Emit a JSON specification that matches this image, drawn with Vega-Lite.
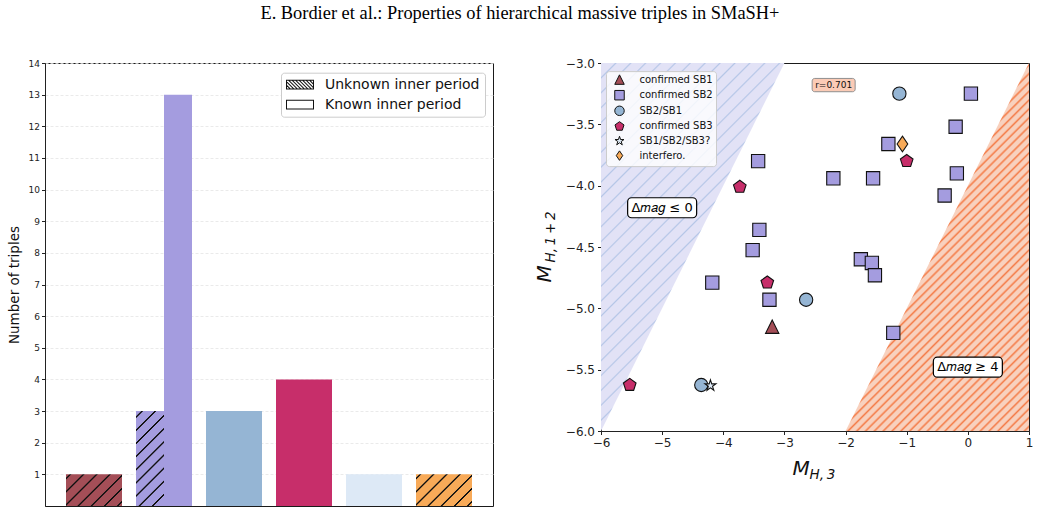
{
  "$schema": "https://vega.github.io/schema/vega-lite/v6.json",
  "background": "white",
  "padding": {"left": 6, "top": 4, "right": 2, "bottom": 0},
  "title": {
    "text": "E. Bordier et al.: Properties of hierarchical massive triples in SMaSH+",
    "font": "Liberation Serif",
    "fontSize": 18.4,
    "fontWeight": "normal",
    "color": "#000000",
    "anchor": "middle",
    "offset": 34
  },
  "config": {
    "view": {"stroke": "#1a1a1a", "strokeWidth": 1},
    "axis": {
      "labelFont": "DejaVu Sans",
      "titleFont": "DejaVu Sans",
      "labelColor": "#222222",
      "titleColor": "#111111",
      "tickColor": "#222222",
      "domainColor": "#222222",
      "tickSize": 3.5,
      "tickWidth": 1,
      "domainWidth": 1,
      "grid": false,
      "titleFontWeight": "normal"
    },
    "legend": {"labelFont": "DejaVu Sans", "titleFont": "DejaVu Sans"}
  },
  "bounds": "flush",
  "spacing": 108,
  "resolve": {"scale": {"color": "independent", "fill": "independent", "shape": "independent", "size": "independent"}},
  "hconcat": [
    {
      "width": 448,
      "height": 443,
      "resolve": {"scale": {"x": "independent"}},
      "data": {
        "values": [
          {"category": "confirmed SB1", "period": "Unknown inner period", "count": 1},
          {"category": "confirmed SB2", "period": "Unknown inner period", "count": 3},
          {"category": "confirmed SB2", "period": "Known inner period", "count": 13},
          {"category": "SB2/SB1", "period": "Known inner period", "count": 3},
          {"category": "confirmed SB3", "period": "Known inner period", "count": 4},
          {"category": "SB1/SB2/SB3?", "period": "Known inner period", "count": 1},
          {"category": "interfero.", "period": "Unknown inner period", "count": 1}
        ]
      },
      "encoding": {
        "x": {
          "field": "category",
          "type": "nominal",
          "scale": {
            "domain": ["confirmed SB1", "confirmed SB2", "SB2/SB1", "confirmed SB3", "SB1/SB2/SB3?", "interfero."],
            "paddingInner": 0.2,
            "paddingOuter": 0.3
          },
          "axis": null
        },
        "y": {
          "field": "count",
          "type": "quantitative",
          "scale": {"domain": [0, 14], "nice": false, "zero": false},
          "axis": {
            "values": [1, 2, 3, 4, 5, 6, 7, 8, 9, 10, 11, 12, 13, 14],
            "title": "Number of triples",
            "titleFontSize": 13.5,
            "labelFontSize": 9,
            "labelPadding": 2,
            "titlePadding": 7,
            "grid": true,
            "gridColor": "#e4e4e4",
            "gridDash": [3, 2],
            "gridWidth": 0.8
          }
        }
      },
      "layer": [
        {
          "data": {"values": [{"edge": "top"}]},
          "mark": {"type": "rule", "color": "#1a1a1a", "strokeWidth": 1},
          "encoding": {
            "x": {"datum": 0, "type": "quantitative", "scale": {"domain": [0, 1]}, "axis": null},
            "x2": {"datum": 1},
            "y": {"datum": 14, "type": "quantitative"}
          }
        },
        {
          "data": {"values": [{"edge": "right"}]},
          "mark": {"type": "rule", "color": "#555555", "strokeWidth": 1},
          "encoding": {
            "x": {"datum": 0.999, "type": "quantitative", "scale": {"domain": [0, 1]}, "axis": null},
            "y": {"datum": 14, "type": "quantitative"},
            "y2": {"datum": 0}
          }
        },
        {
          "transform": [{"filter": "datum.category == 'confirmed SB3'"}],
          "mark": {"type": "point", "filled": true, "strokeWidth": 0, "opacity": 1, "yOffset": 16},
          "encoding": {
            "fill": {
              "field": "period",
              "type": "nominal",
              "scale": {"domain": ["Unknown inner period", "Known inner period"], "range": ["#111111", "#111111"]},
              "legend": {
                "title": null, "orient": "none", "legendX": 236, "legendY": 9.7,
                "padding": 5, "fillColor": "white", "strokeColor": "#cccccc", "cornerRadius": 3,
                "symbolSize": 196, "symbolStrokeWidth": 0, "symbolOpacity": 1,
                "labelFontSize": 14, "labelColor": "#111111", "labelOffset": 25, "rowPadding": 6
              }
            },
            "shape": {
              "field": "period",
              "type": "nominal",
              "scale": {
                "domain": ["Unknown inner period", "Known inner period"],
                "range": [
                  "M-1,-0.7L3,-0.7L3,0.7L-1,0.7ZM-0.857,-0.557L-0.857,0.557L2.857,0.557L2.857,-0.557ZM-1,-0.1L-0.2,0.7L-0.4,0.7L-1,0.1ZM-1,-0.6L0.3,0.7L0.1,0.7L-1,-0.4ZM-0.8,-0.7L-0.6,-0.7L0.8,0.7L0.6,0.7ZM-0.3,-0.7L-0.1,-0.7L1.3,0.7L1.1,0.7ZM0.2,-0.7L0.4,-0.7L1.8,0.7L1.6,0.7ZM0.7,-0.7L0.9,-0.7L2.3,0.7L2.1,0.7ZM1.2,-0.7L1.4,-0.7L2.8,0.7L2.6,0.7ZM1.7,-0.7L1.9,-0.7L3,0.4L3,0.6ZM2.2,-0.7L2.4,-0.7L3,-0.1L3,0.1ZM2.7,-0.7L2.9,-0.7L3,-0.6L3,-0.4Z",
                  "M-1,-0.7L3,-0.7L3,0.7L-1,0.7ZM-0.857,-0.557L-0.857,0.557L2.857,0.557L2.857,-0.557Z"
                ]
              },
              "legend": {
                "title": null, "orient": "none", "legendX": 236, "legendY": 9.7,
                "padding": 5, "fillColor": "white", "strokeColor": "#cccccc", "cornerRadius": 3,
                "symbolSize": 196, "symbolStrokeWidth": 0, "symbolOpacity": 1,
                "labelFontSize": 14, "labelColor": "#111111", "labelOffset": 25, "rowPadding": 6
              }
            }
          }
        },
        {
          "transform": [{"filter": "datum.period == 'Known inner period' && datum.category != 'confirmed SB2'"}],
          "mark": {"type": "bar"},
          "encoding": {
            "color": {
              "field": "category",
              "type": "nominal",
              "scale": {
                "domain": ["confirmed SB1", "confirmed SB2", "SB2/SB1", "confirmed SB3", "SB1/SB2/SB3?", "interfero."],
                "range": ["#a44e57", "#a49cdf", "#95b5d4", "#c72e6a", "#dde9f6", "#f8aa58"]
              },
              "legend": null
            }
          }
        },
        {
          "transform": [{"filter": "datum.category == 'confirmed SB2' && datum.period == 'Known inner period'"}],
          "mark": {"type": "bar", "color": "#a49cdf"},
          "encoding": {
            "xOffset": {"field": "period", "type": "nominal", "scale": {"domain": ["Unknown inner period", "Known inner period"]}}
          }
        },
        {
          "transform": [{"filter": "datum.category == 'confirmed SB2' && datum.period == 'Unknown inner period'"}],
          "mark": {
            "type": "bar",
            "fill": {
              "gradient": "linear", "x1": 0, "y1": 0, "x2": 0.3505, "y2": 1.1911,
              "stops": [
                {"offset": 0, "color": "#a49cdf"},
                {"offset": 0.0385, "color": "#a49cdf"}, {"offset": 0.0455, "color": "#111111"}, {"offset": 0.0545, "color": "#111111"}, {"offset": 0.0615, "color": "#a49cdf"},
                {"offset": 0.1455, "color": "#a49cdf"}, {"offset": 0.1525, "color": "#111111"}, {"offset": 0.1615, "color": "#111111"}, {"offset": 0.1685, "color": "#a49cdf"},
                {"offset": 0.2525, "color": "#a49cdf"}, {"offset": 0.2595, "color": "#111111"}, {"offset": 0.2685, "color": "#111111"}, {"offset": 0.2755, "color": "#a49cdf"},
                {"offset": 0.3595, "color": "#a49cdf"}, {"offset": 0.3665, "color": "#111111"}, {"offset": 0.3755, "color": "#111111"}, {"offset": 0.3825, "color": "#a49cdf"},
                {"offset": 0.4665, "color": "#a49cdf"}, {"offset": 0.4735, "color": "#111111"}, {"offset": 0.4825, "color": "#111111"}, {"offset": 0.4895, "color": "#a49cdf"},
                {"offset": 0.5735, "color": "#a49cdf"}, {"offset": 0.5805, "color": "#111111"}, {"offset": 0.5895, "color": "#111111"}, {"offset": 0.5965, "color": "#a49cdf"},
                {"offset": 0.6805, "color": "#a49cdf"}, {"offset": 0.6875, "color": "#111111"}, {"offset": 0.6965, "color": "#111111"}, {"offset": 0.7035, "color": "#a49cdf"},
                {"offset": 0.7875, "color": "#a49cdf"}, {"offset": 0.7945, "color": "#111111"}, {"offset": 0.8035, "color": "#111111"}, {"offset": 0.8105, "color": "#a49cdf"},
                {"offset": 0.8945, "color": "#a49cdf"}, {"offset": 0.9015, "color": "#111111"}, {"offset": 0.9105, "color": "#111111"}, {"offset": 0.9175, "color": "#a49cdf"},
                {"offset": 1, "color": "#a49cdf"}
              ]
            }
          },
          "encoding": {
            "xOffset": {"field": "period", "type": "nominal", "scale": {"domain": ["Unknown inner period", "Known inner period"]}}
          }
        },
        {
          "transform": [{"filter": "datum.category == 'confirmed SB1'"}],
          "mark": {
            "type": "bar",
            "fill": {
              "gradient": "linear", "x1": 0, "y1": 0, "x2": 1.186, "y2": 0.672,
              "stops": [
                {"offset": 0, "color": "#a44e57"},
                {"offset": 0.034, "color": "#a44e57"}, {"offset": 0.044, "color": "#111111"}, {"offset": 0.056, "color": "#111111"}, {"offset": 0.066, "color": "#a44e57"},
                {"offset": 0.184, "color": "#a44e57"}, {"offset": 0.194, "color": "#111111"}, {"offset": 0.206, "color": "#111111"}, {"offset": 0.216, "color": "#a44e57"},
                {"offset": 0.334, "color": "#a44e57"}, {"offset": 0.344, "color": "#111111"}, {"offset": 0.356, "color": "#111111"}, {"offset": 0.366, "color": "#a44e57"},
                {"offset": 0.484, "color": "#a44e57"}, {"offset": 0.494, "color": "#111111"}, {"offset": 0.506, "color": "#111111"}, {"offset": 0.516, "color": "#a44e57"},
                {"offset": 0.634, "color": "#a44e57"}, {"offset": 0.644, "color": "#111111"}, {"offset": 0.656, "color": "#111111"}, {"offset": 0.666, "color": "#a44e57"},
                {"offset": 0.784, "color": "#a44e57"}, {"offset": 0.794, "color": "#111111"}, {"offset": 0.806, "color": "#111111"}, {"offset": 0.816, "color": "#a44e57"},
                {"offset": 0.934, "color": "#a44e57"}, {"offset": 0.944, "color": "#111111"}, {"offset": 0.956, "color": "#111111"}, {"offset": 0.966, "color": "#a44e57"},
                {"offset": 1, "color": "#a44e57"}
              ]
            }
          }
        },
        {
          "transform": [{"filter": "datum.category == 'interfero.'"}],
          "mark": {
            "type": "bar",
            "fill": {
              "gradient": "linear", "x1": 0, "y1": 0, "x2": 1.186, "y2": 0.672,
              "stops": [
                {"offset": 0, "color": "#f8aa58"},
                {"offset": 0.034, "color": "#f8aa58"}, {"offset": 0.044, "color": "#111111"}, {"offset": 0.056, "color": "#111111"}, {"offset": 0.066, "color": "#f8aa58"},
                {"offset": 0.184, "color": "#f8aa58"}, {"offset": 0.194, "color": "#111111"}, {"offset": 0.206, "color": "#111111"}, {"offset": 0.216, "color": "#f8aa58"},
                {"offset": 0.334, "color": "#f8aa58"}, {"offset": 0.344, "color": "#111111"}, {"offset": 0.356, "color": "#111111"}, {"offset": 0.366, "color": "#f8aa58"},
                {"offset": 0.484, "color": "#f8aa58"}, {"offset": 0.494, "color": "#111111"}, {"offset": 0.506, "color": "#111111"}, {"offset": 0.516, "color": "#f8aa58"},
                {"offset": 0.634, "color": "#f8aa58"}, {"offset": 0.644, "color": "#111111"}, {"offset": 0.656, "color": "#111111"}, {"offset": 0.666, "color": "#f8aa58"},
                {"offset": 0.784, "color": "#f8aa58"}, {"offset": 0.794, "color": "#111111"}, {"offset": 0.806, "color": "#111111"}, {"offset": 0.816, "color": "#f8aa58"},
                {"offset": 0.934, "color": "#f8aa58"}, {"offset": 0.944, "color": "#111111"}, {"offset": 0.956, "color": "#111111"}, {"offset": 0.966, "color": "#f8aa58"},
                {"offset": 1, "color": "#f8aa58"}
              ]
            }
          }
        }
      ]
    },
    {
      "width": 428,
      "height": 368,
      "resolve": {"axis": {"x": "independent", "y": "independent"}},
      "layer": [
        {
          "data": {"values": [{"mh3": -6, "lo": -6, "hi": -3}, {"mh3": -3, "lo": -3, "hi": -3}]},
          "mark": {
            "type": "area",
            "fill": {
              "gradient": "linear", "x1": 0, "y1": 0, "x2": 0.598, "y2": 1.2,
              "stops": [
                {"offset": 0, "color": "#e2e2f6"},
                {"offset": 0.024, "color": "#e2e2f6"}, {"offset": 0.027, "color": "#b5c6e7"}, {"offset": 0.030, "color": "#e2e2f6"},
                {"offset": 0.051, "color": "#e2e2f6"}, {"offset": 0.054, "color": "#b5c6e7"}, {"offset": 0.057, "color": "#e2e2f6"},
                {"offset": 0.078, "color": "#e2e2f6"}, {"offset": 0.081, "color": "#b5c6e7"}, {"offset": 0.084, "color": "#e2e2f6"},
                {"offset": 0.105, "color": "#e2e2f6"}, {"offset": 0.108, "color": "#b5c6e7"}, {"offset": 0.111, "color": "#e2e2f6"},
                {"offset": 0.132, "color": "#e2e2f6"}, {"offset": 0.135, "color": "#b5c6e7"}, {"offset": 0.138, "color": "#e2e2f6"},
                {"offset": 0.159, "color": "#e2e2f6"}, {"offset": 0.162, "color": "#b5c6e7"}, {"offset": 0.165, "color": "#e2e2f6"},
                {"offset": 0.186, "color": "#e2e2f6"}, {"offset": 0.189, "color": "#b5c6e7"}, {"offset": 0.192, "color": "#e2e2f6"},
                {"offset": 0.213, "color": "#e2e2f6"}, {"offset": 0.216, "color": "#b5c6e7"}, {"offset": 0.219, "color": "#e2e2f6"},
                {"offset": 0.240, "color": "#e2e2f6"}, {"offset": 0.243, "color": "#b5c6e7"}, {"offset": 0.246, "color": "#e2e2f6"},
                {"offset": 0.267, "color": "#e2e2f6"}, {"offset": 0.270, "color": "#b5c6e7"}, {"offset": 0.273, "color": "#e2e2f6"},
                {"offset": 0.294, "color": "#e2e2f6"}, {"offset": 0.297, "color": "#b5c6e7"}, {"offset": 0.300, "color": "#e2e2f6"},
                {"offset": 0.321, "color": "#e2e2f6"}, {"offset": 0.324, "color": "#b5c6e7"}, {"offset": 0.327, "color": "#e2e2f6"},
                {"offset": 0.348, "color": "#e2e2f6"}, {"offset": 0.351, "color": "#b5c6e7"}, {"offset": 0.354, "color": "#e2e2f6"},
                {"offset": 0.375, "color": "#e2e2f6"}, {"offset": 0.378, "color": "#b5c6e7"}, {"offset": 0.381, "color": "#e2e2f6"},
                {"offset": 0.402, "color": "#e2e2f6"}, {"offset": 0.405, "color": "#b5c6e7"}, {"offset": 0.408, "color": "#e2e2f6"},
                {"offset": 0.429, "color": "#e2e2f6"}, {"offset": 0.432, "color": "#b5c6e7"}, {"offset": 0.435, "color": "#e2e2f6"},
                {"offset": 0.456, "color": "#e2e2f6"}, {"offset": 0.459, "color": "#b5c6e7"}, {"offset": 0.462, "color": "#e2e2f6"},
                {"offset": 0.483, "color": "#e2e2f6"}, {"offset": 0.486, "color": "#b5c6e7"}, {"offset": 0.489, "color": "#e2e2f6"},
                {"offset": 0.510, "color": "#e2e2f6"}, {"offset": 0.513, "color": "#b5c6e7"}, {"offset": 0.516, "color": "#e2e2f6"},
                {"offset": 0.537, "color": "#e2e2f6"}, {"offset": 0.540, "color": "#b5c6e7"}, {"offset": 0.543, "color": "#e2e2f6"},
                {"offset": 0.564, "color": "#e2e2f6"}, {"offset": 0.567, "color": "#b5c6e7"}, {"offset": 0.570, "color": "#e2e2f6"},
                {"offset": 0.591, "color": "#e2e2f6"}, {"offset": 0.594, "color": "#b5c6e7"}, {"offset": 0.597, "color": "#e2e2f6"},
                {"offset": 0.618, "color": "#e2e2f6"}, {"offset": 0.621, "color": "#b5c6e7"}, {"offset": 0.624, "color": "#e2e2f6"},
                {"offset": 0.645, "color": "#e2e2f6"}, {"offset": 0.648, "color": "#b5c6e7"}, {"offset": 0.651, "color": "#e2e2f6"},
                {"offset": 1, "color": "#e2e2f6"}
              ]
            }
          },
          "encoding": {
            "x": {
              "field": "mh3", "type": "quantitative",
              "scale": {"domain": [-6, 1], "nice": false, "zero": false},
              "axis": {
                "orient": "bottom", "labels": false, "ticks": false, "domain": false,
                "title": "H,\u20093", "titleFontSize": 13.5, "titleFontStyle": "italic",
                "titleX": 208, "titleY": 47.5, "titleAlign": "left", "titleBaseline": "alphabetic"
              }
            },
            "y": {
              "field": "lo", "type": "quantitative",
              "scale": {"domain": [-6, -3], "nice": false, "zero": false},
              "axis": {
                "orient": "left", "labels": false, "ticks": false, "domain": false,
                "title": "H,\u20091\u2009+\u20092", "titleFontSize": 13.5, "titleFontStyle": "italic", "titleAngle": -90,
                "titleX": -47, "titleY": 199, "titleAlign": "left", "titleBaseline": "alphabetic"
              }
            },
            "y2": {"field": "hi"}
          }
        },
        {
          "data": {"values": [{"mh3": -2, "lo": -6, "hi": -6}, {"mh3": 1, "lo": -6, "hi": -3}]},
          "mark": {
            "type": "area",
            "fill": {
              "gradient": "linear", "x1": 0, "y1": 0, "x2": 0.598, "y2": 1.2,
              "stops": [
                {"offset": 0, "color": "#f8d1be"},
                {"offset": 0.316, "color": "#f8d1be"}, {"offset": 0.320, "color": "#f47c48"}, {"offset": 0.324, "color": "#f8d1be"},
                {"offset": 0.332, "color": "#f8d1be"}, {"offset": 0.336, "color": "#f47c48"}, {"offset": 0.340, "color": "#f8d1be"},
                {"offset": 0.348, "color": "#f8d1be"}, {"offset": 0.352, "color": "#f47c48"}, {"offset": 0.356, "color": "#f8d1be"},
                {"offset": 0.364, "color": "#f8d1be"}, {"offset": 0.368, "color": "#f47c48"}, {"offset": 0.372, "color": "#f8d1be"},
                {"offset": 0.380, "color": "#f8d1be"}, {"offset": 0.384, "color": "#f47c48"}, {"offset": 0.388, "color": "#f8d1be"},
                {"offset": 0.396, "color": "#f8d1be"}, {"offset": 0.400, "color": "#f47c48"}, {"offset": 0.404, "color": "#f8d1be"},
                {"offset": 0.412, "color": "#f8d1be"}, {"offset": 0.416, "color": "#f47c48"}, {"offset": 0.420, "color": "#f8d1be"},
                {"offset": 0.428, "color": "#f8d1be"}, {"offset": 0.432, "color": "#f47c48"}, {"offset": 0.436, "color": "#f8d1be"},
                {"offset": 0.444, "color": "#f8d1be"}, {"offset": 0.448, "color": "#f47c48"}, {"offset": 0.452, "color": "#f8d1be"},
                {"offset": 0.460, "color": "#f8d1be"}, {"offset": 0.464, "color": "#f47c48"}, {"offset": 0.468, "color": "#f8d1be"},
                {"offset": 0.476, "color": "#f8d1be"}, {"offset": 0.480, "color": "#f47c48"}, {"offset": 0.484, "color": "#f8d1be"},
                {"offset": 0.492, "color": "#f8d1be"}, {"offset": 0.496, "color": "#f47c48"}, {"offset": 0.500, "color": "#f8d1be"},
                {"offset": 0.508, "color": "#f8d1be"}, {"offset": 0.512, "color": "#f47c48"}, {"offset": 0.516, "color": "#f8d1be"},
                {"offset": 0.524, "color": "#f8d1be"}, {"offset": 0.528, "color": "#f47c48"}, {"offset": 0.532, "color": "#f8d1be"},
                {"offset": 0.540, "color": "#f8d1be"}, {"offset": 0.544, "color": "#f47c48"}, {"offset": 0.548, "color": "#f8d1be"},
                {"offset": 0.556, "color": "#f8d1be"}, {"offset": 0.560, "color": "#f47c48"}, {"offset": 0.564, "color": "#f8d1be"},
                {"offset": 0.572, "color": "#f8d1be"}, {"offset": 0.576, "color": "#f47c48"}, {"offset": 0.580, "color": "#f8d1be"},
                {"offset": 0.588, "color": "#f8d1be"}, {"offset": 0.592, "color": "#f47c48"}, {"offset": 0.596, "color": "#f8d1be"},
                {"offset": 0.604, "color": "#f8d1be"}, {"offset": 0.608, "color": "#f47c48"}, {"offset": 0.612, "color": "#f8d1be"},
                {"offset": 0.620, "color": "#f8d1be"}, {"offset": 0.624, "color": "#f47c48"}, {"offset": 0.628, "color": "#f8d1be"},
                {"offset": 0.636, "color": "#f8d1be"}, {"offset": 0.640, "color": "#f47c48"}, {"offset": 0.644, "color": "#f8d1be"},
                {"offset": 0.652, "color": "#f8d1be"}, {"offset": 0.656, "color": "#f47c48"}, {"offset": 0.660, "color": "#f8d1be"},
                {"offset": 0.668, "color": "#f8d1be"}, {"offset": 0.672, "color": "#f47c48"}, {"offset": 0.676, "color": "#f8d1be"},
                {"offset": 0.684, "color": "#f8d1be"}, {"offset": 0.688, "color": "#f47c48"}, {"offset": 0.692, "color": "#f8d1be"},
                {"offset": 0.700, "color": "#f8d1be"}, {"offset": 0.704, "color": "#f47c48"}, {"offset": 0.708, "color": "#f8d1be"},
                {"offset": 0.716, "color": "#f8d1be"}, {"offset": 0.720, "color": "#f47c48"}, {"offset": 0.724, "color": "#f8d1be"},
                {"offset": 0.732, "color": "#f8d1be"}, {"offset": 0.736, "color": "#f47c48"}, {"offset": 0.740, "color": "#f8d1be"},
                {"offset": 0.748, "color": "#f8d1be"}, {"offset": 0.752, "color": "#f47c48"}, {"offset": 0.756, "color": "#f8d1be"},
                {"offset": 0.764, "color": "#f8d1be"}, {"offset": 0.768, "color": "#f47c48"}, {"offset": 0.772, "color": "#f8d1be"},
                {"offset": 0.780, "color": "#f8d1be"}, {"offset": 0.784, "color": "#f47c48"}, {"offset": 0.788, "color": "#f8d1be"},
                {"offset": 0.796, "color": "#f8d1be"}, {"offset": 0.800, "color": "#f47c48"}, {"offset": 0.804, "color": "#f8d1be"},
                {"offset": 0.812, "color": "#f8d1be"}, {"offset": 0.816, "color": "#f47c48"}, {"offset": 0.820, "color": "#f8d1be"},
                {"offset": 0.828, "color": "#f8d1be"}, {"offset": 0.832, "color": "#f47c48"}, {"offset": 0.836, "color": "#f8d1be"},
                {"offset": 0.844, "color": "#f8d1be"}, {"offset": 0.848, "color": "#f47c48"}, {"offset": 0.852, "color": "#f8d1be"},
                {"offset": 0.860, "color": "#f8d1be"}, {"offset": 0.864, "color": "#f47c48"}, {"offset": 0.868, "color": "#f8d1be"},
                {"offset": 0.876, "color": "#f8d1be"}, {"offset": 0.880, "color": "#f47c48"}, {"offset": 0.884, "color": "#f8d1be"},
                {"offset": 0.892, "color": "#f8d1be"}, {"offset": 0.896, "color": "#f47c48"}, {"offset": 0.900, "color": "#f8d1be"},
                {"offset": 0.908, "color": "#f8d1be"}, {"offset": 0.912, "color": "#f47c48"}, {"offset": 0.916, "color": "#f8d1be"},
                {"offset": 0.924, "color": "#f8d1be"}, {"offset": 0.928, "color": "#f47c48"}, {"offset": 0.932, "color": "#f8d1be"},
                {"offset": 0.940, "color": "#f8d1be"}, {"offset": 0.944, "color": "#f47c48"}, {"offset": 0.948, "color": "#f8d1be"},
                {"offset": 0.956, "color": "#f8d1be"}, {"offset": 0.960, "color": "#f47c48"}, {"offset": 0.964, "color": "#f8d1be"},
                {"offset": 0.972, "color": "#f8d1be"}, {"offset": 0.976, "color": "#f47c48"}, {"offset": 0.980, "color": "#f8d1be"},
                {"offset": 0.988, "color": "#f8d1be"}, {"offset": 0.992, "color": "#f47c48"}, {"offset": 0.996, "color": "#f8d1be"},
                {"offset": 1, "color": "#f8d1be"}
              ]
            }
          },
          "encoding": {
            "x": {"field": "mh3", "type": "quantitative", "scale": {"domain": [-6, 1], "nice": false, "zero": false}, "axis": null},
            "y": {"field": "lo", "type": "quantitative", "scale": {"domain": [-6, -3], "nice": false, "zero": false}, "axis": null},
            "y2": {"field": "hi"}
          }
        },
        {
          "data": {
            "values": [
              {"type": "confirmed SB1", "mh3": -3.2, "mh12": -5.15},
              {"type": "confirmed SB2", "mh3": 0.05, "mh12": -3.25},
              {"type": "confirmed SB2", "mh3": -0.2, "mh12": -3.52},
              {"type": "confirmed SB2", "mh3": -1.3, "mh12": -3.66},
              {"type": "confirmed SB2", "mh3": -3.43, "mh12": -3.8},
              {"type": "confirmed SB2", "mh3": -2.2, "mh12": -3.94},
              {"type": "confirmed SB2", "mh3": -1.55, "mh12": -3.94},
              {"type": "confirmed SB2", "mh3": -0.18, "mh12": -3.9},
              {"type": "confirmed SB2", "mh3": -0.38, "mh12": -4.08},
              {"type": "confirmed SB2", "mh3": -3.41, "mh12": -4.36},
              {"type": "confirmed SB2", "mh3": -3.52, "mh12": -4.525},
              {"type": "confirmed SB2", "mh3": -4.18, "mh12": -4.79},
              {"type": "confirmed SB2", "mh3": -3.245, "mh12": -4.93},
              {"type": "confirmed SB2", "mh3": -1.75, "mh12": -4.6},
              {"type": "confirmed SB2", "mh3": -1.57, "mh12": -4.63},
              {"type": "confirmed SB2", "mh3": -1.52, "mh12": -4.73},
              {"type": "confirmed SB2", "mh3": -1.22, "mh12": -5.2},
              {"type": "SB2/SB1", "mh3": -1.12, "mh12": -3.25},
              {"type": "SB2/SB1", "mh3": -2.645, "mh12": -4.93},
              {"type": "SB2/SB1", "mh3": -4.36, "mh12": -5.625},
              {"type": "confirmed SB3", "mh3": -1.0, "mh12": -3.8},
              {"type": "confirmed SB3", "mh3": -3.73, "mh12": -4.01},
              {"type": "confirmed SB3", "mh3": -3.28, "mh12": -4.79},
              {"type": "confirmed SB3", "mh3": -5.53, "mh12": -5.625},
              {"type": "SB1/SB2/SB3?", "mh3": -4.21, "mh12": -5.63},
              {"type": "interfero.", "mh3": -1.07, "mh12": -3.66}
            ]
          },
          "mark": {"type": "point", "filled": true, "opacity": 1, "stroke": "#111111", "strokeWidth": 1.1},
          "encoding": {
            "x": {
              "field": "mh3", "type": "quantitative",
              "scale": {"domain": [-6, 1], "nice": false, "zero": false},
              "axis": {
                "orient": "bottom", "values": [-6, -5, -4, -3, -2, -1, 0, 1], "format": "d",
                "labelFontSize": 12, "labelFlush": false, "labelPadding": 3,
                "title": "M", "titleFontSize": 20, "titleFontStyle": "italic",
                "titleX": 191, "titleY": 43, "titleAlign": "left", "titleBaseline": "alphabetic"
              }
            },
            "y": {
              "field": "mh12", "type": "quantitative",
              "scale": {"domain": [-6, -3], "nice": false, "zero": false},
              "axis": {
                "orient": "left", "values": [-6, -5.5, -5, -4.5, -4, -3.5, -3], "format": ".1f",
                "labelFontSize": 12, "labelFlush": false, "labelPadding": 3,
                "title": "M", "titleFontSize": 20, "titleFontStyle": "italic", "titleAngle": -90,
                "titleX": -51, "titleY": 219, "titleAlign": "left", "titleBaseline": "alphabetic"
              }
            },
            "color": {
              "field": "type", "type": "nominal",
              "scale": {
                "domain": ["confirmed SB1", "confirmed SB2", "SB2/SB1", "confirmed SB3", "SB1/SB2/SB3?", "interfero."],
                "range": ["#a44e57", "#a49cdf", "#95b5d4", "#c72e6a", "#dde9f6", "#f8aa58"]
              },
              "legend": {
                "title": null, "orient": "none", "legendX": 5, "legendY": 8.1,
                "padding": 3, "fillColor": "rgba(255,255,255,0.8)", "strokeColor": "#cccccc", "cornerRadius": 3,
                "symbolSize": 90, "symbolStrokeColor": "#111111", "symbolStrokeWidth": 1, "symbolOffset": 5,
                "labelFontSize": 10, "labelColor": "#111111", "labelOffset": 14.5, "rowPadding": 0.6,
                "labelExpr": "datum.label == 'confirmed SB1' ? '\u00a0confirmed SB1' : datum.label",
                "encode": {"symbols": {"size": {"value": 90}}}
              }
            },
            "shape": {
              "field": "type", "type": "nominal",
              "scale": {
                "domain": ["confirmed SB1", "confirmed SB2", "SB2/SB1", "confirmed SB3", "SB1/SB2/SB3?", "interfero."],
                "range": [
                  "M0,-1L1,1L-1,1Z",
                  "square",
                  "circle",
                  "M0,-1L0.951,-0.309L0.588,0.809L-0.588,0.809L-0.951,-0.309Z",
                  "M0,-1L0.225,-0.309L0.951,-0.309L0.363,0.118L0.588,0.809L0,0.382L-0.588,0.809L-0.363,0.118L-0.951,-0.309L-0.225,-0.309Z",
                  "M0,-1L0.68,0L0,1L-0.68,0Z"
                ]
              },
              "legend": {
                "title": null, "orient": "none", "legendX": 5, "legendY": 8.1,
                "padding": 3, "fillColor": "rgba(255,255,255,0.8)", "strokeColor": "#cccccc", "cornerRadius": 3,
                "symbolSize": 90, "symbolStrokeColor": "#111111", "symbolStrokeWidth": 1, "symbolOffset": 5,
                "labelFontSize": 10, "labelColor": "#111111", "labelOffset": 14.5, "rowPadding": 0.6,
                "labelExpr": "datum.label == 'confirmed SB1' ? '\u00a0confirmed SB1' : datum.label",
                "encode": {"symbols": {"size": {"value": 90}}}
              }
            },
            "size": {
              "condition": [
                {"test": "datum.type == 'interfero.'", "value": 246},
                {"test": "datum.type == 'SB1/SB2/SB3?'", "value": 134}
              ],
              "value": 176
            }
          }
        },
        {
          "data": {
            "values": [
              {"note": "Δ𝑚𝑎𝑔 ≤ 0", "mh3": -5.0, "mh12": -4.18},
              {"note": "Δ𝑚𝑎𝑔 ≥ 4", "mh3": 0.0, "mh12": -5.48}
            ]
          },
          "encoding": {
            "x": {"field": "mh3", "type": "quantitative", "scale": {"domain": [-6, 1], "nice": false, "zero": false}, "axis": null},
            "y": {"field": "mh12", "type": "quantitative", "scale": {"domain": [-6, -3], "nice": false, "zero": false}, "axis": null}
          },
          "layer": [
            {
              "mark": {
                "type": "point",
                "shape": "M-0.884,-0.29L0.884,-0.29A0.116,0.116,0,0,1,1,-0.174L1,0.174A0.116,0.116,0,0,1,0.884,0.29L-0.884,0.29A0.116,0.116,0,0,1,-1,0.174L-1,-0.174A0.116,0.116,0,0,1,-0.884,-0.29Z",
                "size": 4761, "filled": true, "fill": "white", "stroke": "black", "strokeWidth": 1.2, "opacity": 1
              }
            },
            {
              "mark": {"type": "text", "font": "DejaVu Sans", "fontSize": 13, "color": "black", "align": "center", "baseline": "middle"},
              "encoding": {"text": {"field": "note"}}
            }
          ]
        },
        {
          "data": {"values": [{"note": "r=0.701", "mh3": -2.195, "mh12": -3.18}]},
          "encoding": {
            "x": {"field": "mh3", "type": "quantitative", "scale": {"domain": [-6, 1], "nice": false, "zero": false}, "axis": null},
            "y": {"field": "mh12", "type": "quantitative", "scale": {"domain": [-6, -3], "nice": false, "zero": false}, "axis": null}
          },
          "layer": [
            {
              "mark": {
                "type": "point",
                "shape": "M-0.884,-0.309L0.884,-0.309A0.116,0.116,0,0,1,1,-0.193L1,0.193A0.116,0.116,0,0,1,0.884,0.309L-0.884,0.309A0.116,0.116,0,0,1,-1,0.193L-1,-0.193A0.116,0.116,0,0,1,-0.884,-0.309Z",
                "size": 1849, "filled": true, "fill": "#fbcbb6", "stroke": "#8f8f8f", "strokeWidth": 1, "opacity": 1
              }
            },
            {
              "mark": {"type": "text", "font": "DejaVu Sans", "fontSize": 9, "color": "#111111", "align": "center", "baseline": "middle"},
              "encoding": {"text": {"field": "note"}}
            }
          ]
        }
      ]
    }
  ]
}
